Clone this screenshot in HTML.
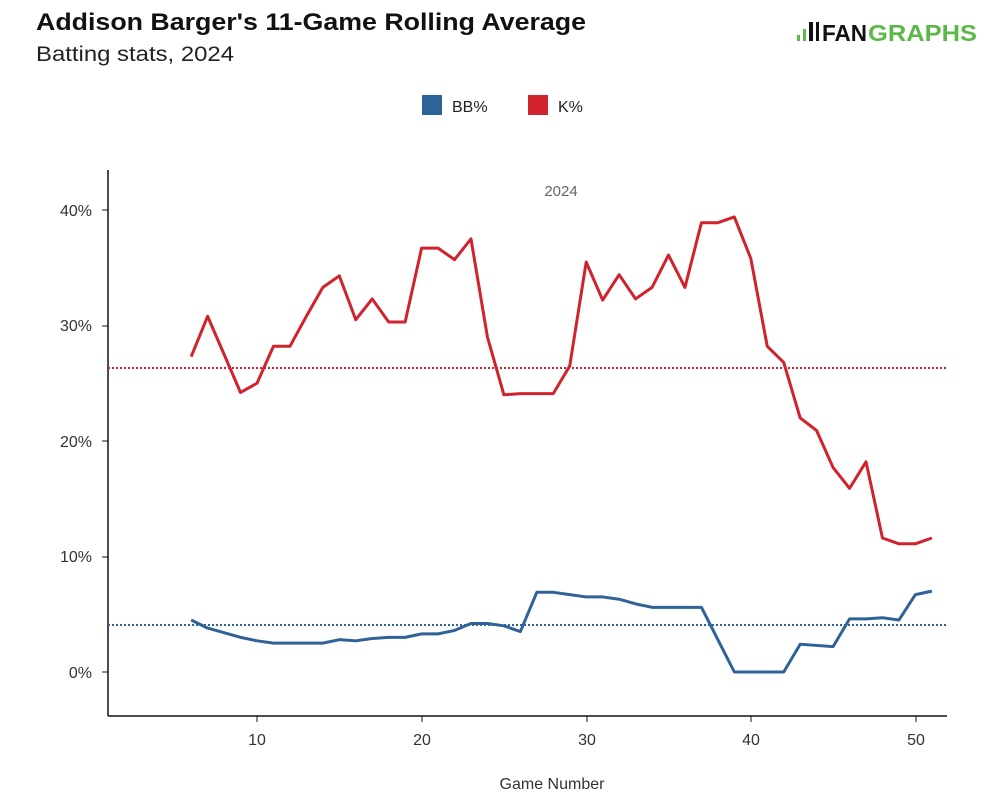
<!DOCTYPE html>
<html><head><meta charset="utf-8"><style>
body{margin:0;background:#fff;font-family:"Liberation Sans",sans-serif;}
</style></head><body>
<svg width="997" height="804" xmlns="http://www.w3.org/2000/svg" font-family="Liberation Sans, sans-serif">
<rect width="997" height="804" fill="#fff"/>
<text x="36" y="30" font-size="24" font-weight="bold" fill="#111" textLength="550" lengthAdjust="spacingAndGlyphs">Addison Barger's 11-Game Rolling Average</text>
<text x="36" y="61" font-size="21" fill="#222" textLength="198" lengthAdjust="spacingAndGlyphs">Batting stats, 2024</text>
<g>
<rect x="797" y="35" width="3" height="6" fill="#5cb947"/>
<rect x="803" y="29" width="3" height="12" fill="#5cb947"/>
<rect x="809" y="22" width="4" height="19" fill="#111"/>
<rect x="816" y="22" width="3" height="19" fill="#111"/>
<text x="822" y="41" font-size="23" font-weight="bold" fill="#111" textLength="45" lengthAdjust="spacingAndGlyphs">FAN</text>
<text x="868" y="41" font-size="23" font-weight="bold" fill="#5cb947" textLength="109" lengthAdjust="spacingAndGlyphs">GRAPHS</text>
</g>
<rect x="422" y="95" width="20" height="20" fill="#2f6398"/>
<text x="452" y="112" font-size="16" fill="#222">BB%</text>
<rect x="528" y="95" width="20" height="20" fill="#d0232e"/>
<text x="558" y="112" font-size="16" fill="#222">K%</text>
<text x="561" y="196" font-size="15" fill="#666" text-anchor="middle">2024</text>
<line x1="108" y1="170" x2="108" y2="716" stroke="#111" stroke-width="1.5"/>
<line x1="108" y1="716" x2="947" y2="716" stroke="#111" stroke-width="1.5"/>
<g font-size="16" fill="#333" text-anchor="end">
<text x="92" y="216">40%</text><text x="92" y="331">30%</text><text x="92" y="447">20%</text><text x="92" y="562">10%</text><text x="92" y="678">0%</text>
</g>
<g stroke="#111" stroke-width="1"><line x1="102" x2="108" y1="210" y2="210"/><line x1="102" x2="108" y1="326" y2="326"/><line x1="102" x2="108" y1="441" y2="441"/><line x1="102" x2="108" y1="557" y2="557"/><line x1="102" x2="108" y1="672" y2="672"/>
<line x1="257" x2="257" y1="716" y2="722"/><line x1="422" x2="422" y1="716" y2="722"/><line x1="587" x2="587" y1="716" y2="722"/><line x1="751" x2="751" y1="716" y2="722"/><line x1="916" x2="916" y1="716" y2="722"/></g>
<g font-size="16" fill="#333" text-anchor="middle">
<text x="257" y="745">10</text><text x="422" y="745">20</text><text x="587" y="745">30</text><text x="751" y="745">40</text><text x="916" y="745">50</text>
<text x="552" y="789">Game Number</text>
</g>
<line x1="108" x2="947" y1="368" y2="368" stroke="#d0232e" stroke-width="2" stroke-dasharray="2,2"/>
<line x1="108" x2="947" y1="625" y2="625" stroke="#2f6398" stroke-width="2" stroke-dasharray="2,2"/>
<g transform="matrix(16.46 0 0 -11.55 92.4 672)" fill="none" stroke-linejoin="round">
<polyline vector-effect="non-scaling-stroke" stroke="#d0232e" stroke-width="3" points="6,27.3 7,30.8 8,27.5 9,24.2 10,25 11,28.2 12,28.2 13,30.8 14,33.3 15,34.3 16,30.5 17,32.3 18,30.3 19,30.3 20,36.7 21,36.7 22,35.7 23,37.5 24,29 25,24 26,24.1 27,24.1 28,24.1 29,26.5 30,35.5 31,32.2 32,34.4 33,32.3 34,33.3 35,36.1 36,33.3 37,38.9 38,38.9 39,39.4 40,35.8 41,28.2 42,26.8 43,22 44,20.9 45,17.7 46,15.9 47,18.2 48,11.6 49,11.1 50,11.1 51,11.6"/>
<polyline vector-effect="non-scaling-stroke" stroke="#2f6398" stroke-width="3" points="6,4.5 7,3.8 8,3.4 9,3.0 10,2.7 11,2.5 12,2.5 13,2.5 14,2.5 15,2.8 16,2.7 17,2.9 18,3.0 19,3.0 20,3.3 21,3.3 22,3.6 23,4.2 24,4.2 25,4.0 26,3.5 27,6.9 28,6.9 29,6.7 30,6.5 31,6.5 32,6.3 33,5.9 34,5.6 35,5.6 36,5.6 37,5.6 38,2.8 39,0 40,0 41,0 42,0 43,2.4 44,2.3 45,2.2 46,4.6 47,4.6 48,4.7 49,4.5 50,6.7 51,7.0"/>
</g>
</svg>
</body></html>
